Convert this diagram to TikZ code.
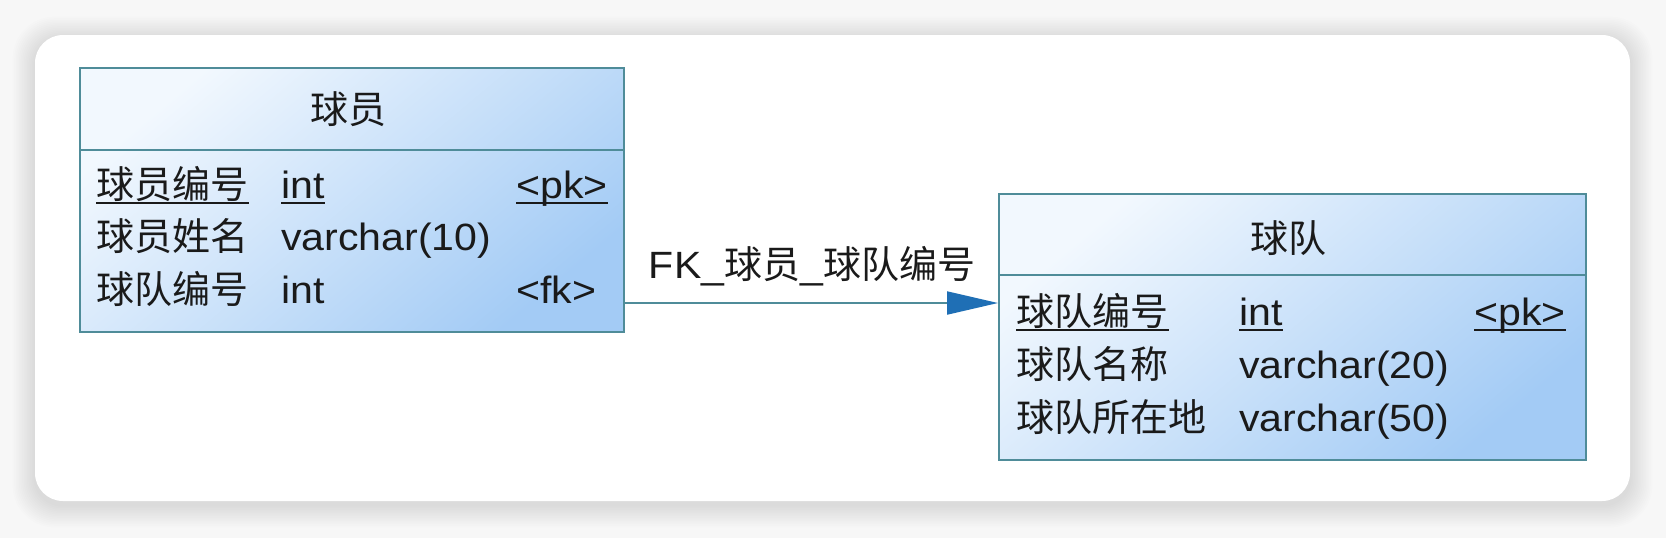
\documentclass[tikz,border=0pt]{standalone}
\usepackage{fontspec}
\setmainfont{Liberation Sans}[FakeStretch=1.08]
\newfontfamily\cjk{Noto Sans CJK SC}
\usetikzlibrary{arrows.meta}
\definecolor{bgc}{HTML}{F7F7F7}
\definecolor{bordc}{HTML}{4F8C99}
\definecolor{lightc}{HTML}{F2F8FE}
\definecolor{bluec}{HTML}{A3CBF5}
\definecolor{arrc}{HTML}{1F6FB5}
\definecolor{txtc}{HTML}{1A1A1A}
\tikzset{
  table/.style={draw=bordc, line width=1pt, top color=lightc, bottom color=bluec, shading angle=40, rectangle, inner sep=0pt},
  hline/.style={draw=bordc, line width=1pt},
  txt/.style={inner sep=0pt, font=\fontsize{19}{22}\selectfont, text=txtc},
  ul/.style={draw=txtc, line width=1pt},
  conn/.style={draw=bordc, line width=1pt, -{Triangle[length=25.5pt, width=11.5pt, color=arrc]}},
}
\begin{document}
\begin{tikzpicture}[x=0.5pt,y=-0.5pt]
% background
\fill[bgc] (0,0) rectangle (1666,538);
\useasboundingbox (0,0) rectangle (1666,538);
\foreach \i in {1,...,14}{
  \fill[black, opacity=0.006, rounded corners=14pt+0.5pt*\i]
    (35-1.6*\i,35-1.6*\i+4) rectangle (1630+1.6*\i,501+1.6*\i+4);
}
\fill[white, rounded corners=14pt] (35,35) rectangle (1630,501);

% table 1
\node[table, minimum width=272pt, minimum height=132pt] (t1) at (352,200) {};
\coordinate (h1) at (0,150);
\draw[hline] (t1.west |- h1) -- (t1.east |- h1);
\node[txt] (t1title) at (348,109) {\cjk 球员};
\node[txt, anchor=base west] (a1) at (96,198) {\cjk 球员编号};
\node[txt, anchor=base west] (b1) at (281,198) {int};
\node[txt, anchor=base west] (c1) at (516,198) {<pk>};
\node[txt, anchor=base west] (a2) at (96,250) {\cjk 球员姓名};
\node[txt, anchor=base west] (b2) at (281,250) {varchar(10)};
\node[txt, anchor=base west] (a3) at (96,303) {\cjk 球队编号};
\node[txt, anchor=base west] (b3) at (281,303) {int};
\node[txt, anchor=base west] (c3) at (516,303) {<fk>};
\foreach \n in {a1,b1,c1}{
  \draw[ul] ([yshift=-2.5pt]\n.base west) -- ([yshift=-2.5pt]\n.base east);
}

% table 2
\node[table, minimum width=293.5pt, minimum height=133pt] (t2) at (1292.5,327) {};
\coordinate (h2) at (0,275);
\draw[hline] (t2.west |- h2) -- (t2.east |- h2);
\node[txt] (t2title) at (1288,238) {\cjk 球队};
\node[txt, anchor=base west] (d1) at (1016,325) {\cjk 球队编号};
\node[txt, anchor=base west] (e1) at (1239,325) {int};
\node[txt, anchor=base west] (f1) at (1474,325) {<pk>};
\node[txt, anchor=base west] (d2) at (1016,378) {\cjk 球队名称};
\node[txt, anchor=base west] (e2) at (1239,378) {varchar(20)};
\node[txt, anchor=base west] (d3) at (1016,431) {\cjk 球队所在地};
\node[txt, anchor=base west] (e3) at (1239,431) {varchar(50)};
\foreach \n in {d1,e1,f1}{
  \draw[ul] ([yshift=-2.5pt]\n.base west) -- ([yshift=-2.5pt]\n.base east);
}

% connector
\coordinate (cy) at (0,303);
\draw[conn] (t1.east |- cy) -- (t2.west |- cy);
\node[txt] (lbl) at (812,266) {FK\_{\cjk 球员}\_{\cjk 球队编号}};
\end{tikzpicture}
\end{document}
